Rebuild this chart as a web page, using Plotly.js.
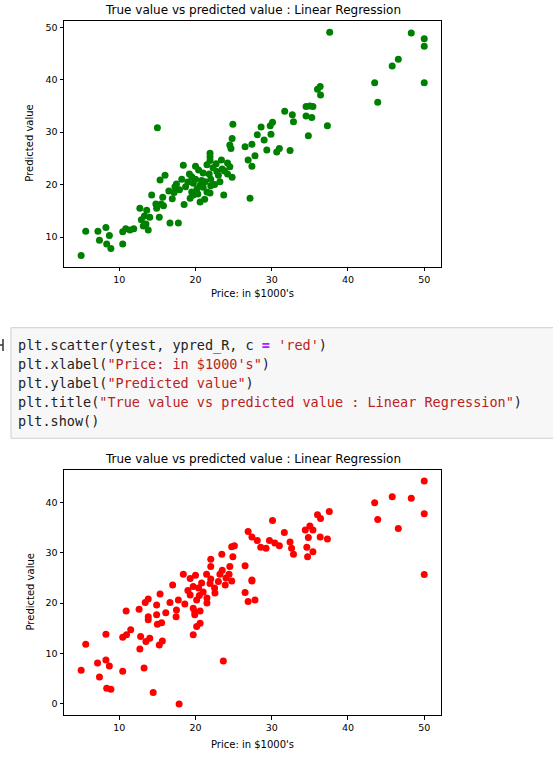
<!DOCTYPE html>
<html>
<head>
<meta charset="utf-8">
<script src="https://cdn.plot.ly/plotly-3.0.1.min.js"></script>
<style>html,body{margin:0;padding:0;background:#fff;}#chart{width:553px;height:771px;}</style>
</head>
<body>
<div id="chart"></div>
<script>
// ---- Data: top chart (green) ----
const trueTop = [5.0,5.6,7.2,7.4,8.25,8.35,8.7,8.9,10.45,10.45,10.85,11.4,11.9,12.7,12.9,13.15,13.6,13.8,13.3,14.0,13.5,14.25,14.9,15.25,15.5,15.7,15.35,16.0,15.0,16.65,17.75,16.95,14.8,15.8,17.5,17.9,18.4,18.5,19.2,19.7,20.6,21.9,21.9,21.9,21.9,23.7,24.8,27.15,
 17.3,19.7,19.5,20.6,21.25,21.5,20.4,21.0,22.3,23.4,24.2,24.5,23.2,19.0,20.0,20.2,21.0,22.0,22.5,19.5,20.8,21.8,22.8,18.7,20.3,21.2,22.0,23.0,23.8,24.2,19.3,17.2,18.2,16.5,20.0,21.5,22.7,23.5,
 24.9,24.8,24.5,24.65,26.5,27.4,26.9,27.8,27.4,28.1,28.6,29.0,29.35,30.1,29.8,29.9,31.0,30.65,32.4,31.7,32.7,32.85,34.5,35.0,35.4,34.5,35.25,37.3,34.8,36.35,36.0,36.4,37.6,48.3,50.0,50.0,46.6,45.8,43.5,43.9,50.0];
const predTop = [6.5,11.1,11.1,9.4,11.8,8.7,10.3,7.8,8.7,11.0,11.6,11.35,11.6,15.5,13.3,12.1,15.1,11.35,14.0,13.8,12.5,18.0,15.5,13.8,16.3,17.6,20.9,21.8,30.85,12.7,12.7,17.3,16.3,15.95,20.1,19.0,23.7,16.2,22.0,18.0,16.7,26.0,25.3,24.6,18.4,18.0,21.4,17.4,
 19.6,20.25,18.6,19.9,20.55,18.6,22.8,22.2,23.2,24.7,24.1,23.4,20.55,20.5,21.0,19.2,19.5,21.0,20.0,21.5,20.8,22.0,22.5,19.6,18.2,17.2,19.8,21.8,22.6,22.0,17.4,18.5,21.0,18.8,23.5,23.8,24.0,23.0,
 31.5,28.8,27.55,26.9,27.2,27.7,24.7,25.5,23.5,29.5,31.0,28.5,26.6,31.9,31.2,29.6,26.9,26.2,26.5,34.0,33.3,32.0,34.9,35.0,34.9,33.1,32.8,31.2,29.3,38.7,38.2,37.1,49.05,48.9,47.8,46.4,43.9,42.6,39.4,35.7,39.4];

// ---- Data: bottom chart (red) ----
const trueBottom = [5.0,5.6,7.15,7.4,8.25,8.25,8.7,8.35,8.9,10.45,10.45,10.9,10.95,11.5,12.6,12.7,12.8,13.25,13.4,13.8,13.8,13.8,14.0,13.5,14.45,14.9,14.9,15.0,15.35,15.25,15.65,15.55,16.1,16.65,17.0,17.45,17.5,17.75,17.85,18.6,19.7,20.15,20.6,19.9,23.65,26.5,26.9,27.4,27.8,
 50.0,45.8,48.3,43.5,50.0,43.9,46.6,50.0,37.55,36.0,36.4,30.1,31.65,34.4,35.0,35.4,34.8,36.35,37.3,32.4,32.6,32.85,34.6,34.7,35.4,26.9,27.4,28.1,28.55,29.25,29.7,30.4,31.0,26.5,27.4,
 24.75,25.1,23.45,24.9,22.0,22.0,24.5,18.4,19.3,21.45,23.2,24.4,24.75,19.7,21.9,23.9,19.3,21.0,22.55,20.15,19.7,20.6,19.9,
 20.5,21.5,22.0,23.0,20.8,21.5,22.5,19.0,20.0,23.5,24.0,20.4];
const predBottom = [6.7,11.85,8.1,5.35,13.8,8.7,7.5,3.1,2.9,6.5,13.2,18.45,13.7,14.7,18.8,10.9,13.35,7.1,20.1,20.8,17.3,16.7,13.0,12.4,2.25,19.6,17.7,15.8,21.8,11.7,12.5,16.1,18.1,20.1,23.6,17.3,18.65,20.6,0.0,19.8,13.7,15.35,16.0,18.3,8.5,22.1,20.3,24.4,20.6,
 44.2,41.1,40.8,39.9,37.7,36.6,34.8,25.65,38.15,37.5,36.8,36.4,34.0,34.5,35.3,34.5,33.0,33.1,32.7,32.1,30.9,29.7,31.1,29.2,30.2,34.2,33.1,32.4,31.1,30.9,32.4,31.9,31.35,27.4,24.6,
 31.2,31.35,29.7,29.2,28.7,27.25,27.25,25.7,24.9,25.7,25.7,25.7,24.4,23.3,23.9,23.6,21.6,22.2,22.0,20.6,19.0,18.45,17.7,
 21.5,21.0,24.8,24.3,24.0,20.0,23.0,22.5,25.5,26.5,25.0,23.0];

const tickValsX = [10,20,30,40,50];
const tickValsYTop = [10,20,30,40,50];
const tickValsYBottom = [0,10,20,30,40];

const titleText = "True value vs predicted value : Linear Regression";
const xLabel = "Price: in $1000's";
const yLabel = "Predicted value";

const codeLines = [
  "plt.scatter(ytest, ypred_R, c <b><span style=\"color:#AA22FF\">=</span></b> <span style=\"color:#BA2121\">'red'</span>)",
  "plt.xlabel(<span style=\"color:#BA2121\">\"Price: in $1000's\"</span>)",
  "plt.ylabel(<span style=\"color:#BA2121\">\"Predicted value\"</span>)",
  "plt.title(<span style=\"color:#BA2121\">\"True value vs predicted value : Linear Regression\"</span>)",
  "plt.show()"
];

// ---- Layout helpers ----
const W = 553, H = 771;
const px = v => v / W;
const py = v => 1 - v / H;

function axisStyle(extra) {
  return Object.assign({
    showline: true, mirror: true, linecolor: '#000', linewidth: 1,
    ticks: 'outside', ticklen: 3.5, tickwidth: 1, tickcolor: '#000',
    showgrid: false, zeroline: false, fixedrange: true,
    tickfont: {family: 'DejaVu Sans', size: 9.5, color: '#000'}
  }, extra);
}

const traces = [
  {x: trueTop, y: predTop, type: 'scatter', mode: 'markers', xaxis: 'x', yaxis: 'y',
   marker: {color: '#008000', size: 7, line: {width: 0}}, hoverinfo: 'skip'},
  {x: trueBottom, y: predBottom, type: 'scatter', mode: 'markers', xaxis: 'x2', yaxis: 'y2',
   marker: {color: '#ff0000', size: 7, line: {width: 0}}, hoverinfo: 'skip'}
];

const xc = px((64 + 441) / 2);
const annFont = {family: 'DejaVu Sans', color: '#000'};
const annotations = [
  {text: titleText, x: xc, y: py(10), xref: 'paper', yref: 'paper', showarrow: false, xanchor: 'center', yanchor: 'middle', font: Object.assign({size: 12}, annFont)},
  {text: titleText, x: xc, y: py(459), xref: 'paper', yref: 'paper', showarrow: false, xanchor: 'center', yanchor: 'middle', font: Object.assign({size: 12}, annFont)},
  {text: xLabel, x: xc, y: py(293), xref: 'paper', yref: 'paper', showarrow: false, xanchor: 'center', yanchor: 'middle', font: Object.assign({size: 10}, annFont)},
  {text: xLabel, x: xc, y: py(744), xref: 'paper', yref: 'paper', showarrow: false, xanchor: 'center', yanchor: 'middle', font: Object.assign({size: 10}, annFont)},
  {text: yLabel, x: px(30), y: py(143.7), xref: 'paper', yref: 'paper', showarrow: false, textangle: -90, xanchor: 'center', yanchor: 'middle', font: Object.assign({size: 10}, annFont)},
  {text: yLabel, x: px(30), y: py(592.5), xref: 'paper', yref: 'paper', showarrow: false, textangle: -90, xanchor: 'center', yanchor: 'middle', font: Object.assign({size: 10}, annFont)}
];
const lineY = [345, 364.2, 383.3, 402.4, 421.5];
codeLines.forEach((t, i) => {
  annotations.push({text: t, x: px(16), y: py(lineY[i]), xref: 'paper', yref: 'paper', showarrow: false,
    xanchor: 'left', yanchor: 'middle', align: 'left',
    font: {family: 'DejaVu Sans Mono', size: 13.5, color: '#222'}});
});

const shapes = [
  {type: 'rect', xref: 'paper', yref: 'paper', x0: px(11), x1: 1.05, y0: py(438.3), y1: py(327.7),
   fillcolor: '#f7f7f7', line: {color: '#cfcfcf', width: 1}},
  {type: 'line', xref: 'paper', yref: 'paper', x0: px(3), x1: px(3), y0: py(339), y1: py(351), line: {color: '#333', width: 1.5}},
  {type: 'line', xref: 'paper', yref: 'paper', x0: 0, x1: px(3), y0: py(345), y1: py(345), line: {color: '#333', width: 1.5}}
];

const layout = {
  width: W, height: H,
  margin: {l: 0, r: 0, t: 0, b: 0},
  paper_bgcolor: '#fff', plot_bgcolor: '#fff',
  showlegend: false,
  xaxis: axisStyle({domain: [px(64), px(441)], range: [2.75, 52.2], anchor: 'y', tickvals: tickValsX}),
  yaxis: axisStyle({domain: [py(266.7), py(20.7)], range: [4.35, 51.25], anchor: 'x', tickvals: tickValsYTop}),
  xaxis2: axisStyle({domain: [px(64), px(441)], range: [2.75, 52.2], anchor: 'y2', tickvals: tickValsX}),
  yaxis2: axisStyle({domain: [py(715), py(470)], range: [-2.2, 46.4], anchor: 'x2', tickvals: tickValsYBottom}),
  annotations: annotations,
  shapes: shapes
};

Plotly.newPlot('chart', traces, layout, {staticPlot: true, displayModeBar: false});
</script>
</body>
</html>
